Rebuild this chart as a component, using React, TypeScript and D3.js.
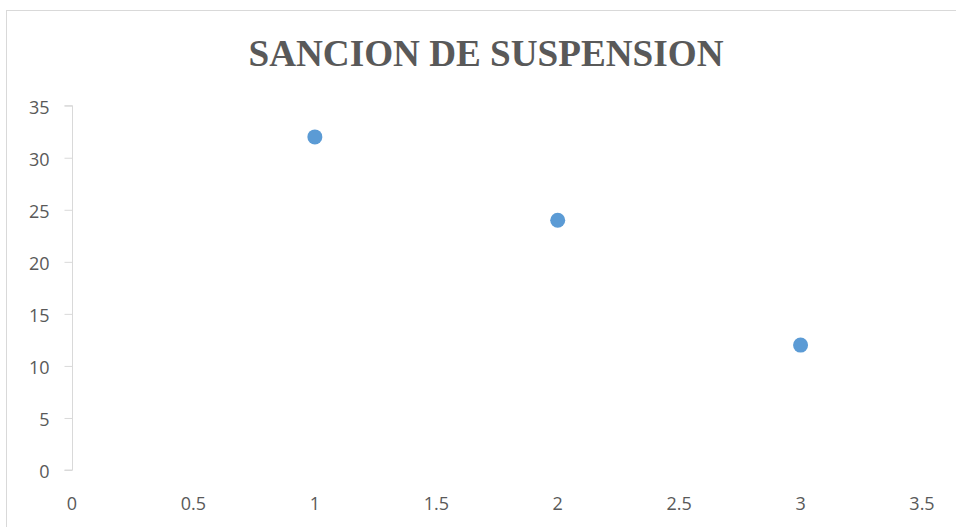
import React, { useEffect, useRef } from 'react';
import * as d3 from 'd3';

const title = 'SANCION DE SUSPENSION';
const xValues = [1, 2, 3];
const yValues = [32, 24, 12];
const xTicks = [0, 0.5, 1, 1.5, 2, 2.5, 3, 3.5];
const yTicks = [0, 5, 10, 15, 20, 25, 30, 35];

const W = 956;
const H = 527;
const labelFont = '"Liberation Sans Narrow", "Open Sans", "Liberation Sans", Arial, sans-serif';

const App = () => {
    const svgRef = useRef<SVGSVGElement>(null);

    useEffect(() => {
        if (!svgRef.current) return;
        const svg = d3.select(svgRef.current);
        svg.selectAll('*').remove();

        svg.append('rect').attr('width', W).attr('height', H).attr('fill', '#ffffff');

        // chart frame
        svg.append('rect')
            .attr('x', 6.5).attr('y', 10.5)
            .attr('width', W + 10).attr('height', H + 10)
            .attr('fill', '#ffffff')
            .attr('stroke', '#d9d9d9');

        const x = d3.scaleLinear().domain([0, 3.5]).range([72, 922]);
        const y = d3.scaleLinear().domain([0, 35]).range([470, 105.7]);

        svg.append('text')
            .attr('x', 486).attr('y', 66)
            .attr('text-anchor', 'middle')
            .attr('font-family', '"Liberation Serif", "Times New Roman", serif')
            .attr('font-weight', 'bold')
            .attr('font-size', 37)
            .attr('textLength', 475)
            .attr('lengthAdjust', 'spacingAndGlyphs')
            .attr('fill', '#595959')
            .text(title);

        // y axis
        const yAxis = d3.axisLeft(y).tickValues(yTicks).tickSize(8).tickPadding(15)
            .tickFormat(d => String(d));
        const gy = svg.append('g').attr('transform', 'translate(72.5,0)').call(yAxis);
        gy.select('.domain').attr('stroke', '#d9d9d9').attr('d', `M-8,${y(35)}H0V${y(0)}H-8`);
        gy.selectAll('.tick line').attr('stroke', '#d9d9d9');
        gy.selectAll('.tick text')
            .attr('fill', '#595959')
            .attr('font-size', 18)
            .attr('dy', '0.42em')
            .attr('font-family', labelFont);

        // x labels (no axis line)
        svg.append('g').selectAll('text')
            .data(xTicks)
            .join('text')
            .attr('x', d => x(d))
            .attr('y', 510)
            .attr('text-anchor', 'middle')
            .attr('fill', '#595959')
            .attr('font-size', 18)
            .attr('font-family', labelFont)
            .text(d => String(d));

        svg.append('g').selectAll('circle')
            .data(xValues.map((v, i) => ({ x: v, y: yValues[i] })))
            .join('circle')
            .attr('cx', d => x(d.x))
            .attr('cy', d => y(d.y))
            .attr('r', 7.5)
            .attr('fill', '#5b9bd5');
    }, []);

    return (
        <div style={{ position: 'absolute', left: 0, top: 0 }}>
            <svg ref={svgRef} width={W} height={H} style={{ display: 'block' }}></svg>
        </div>
    );
};

export default App;
